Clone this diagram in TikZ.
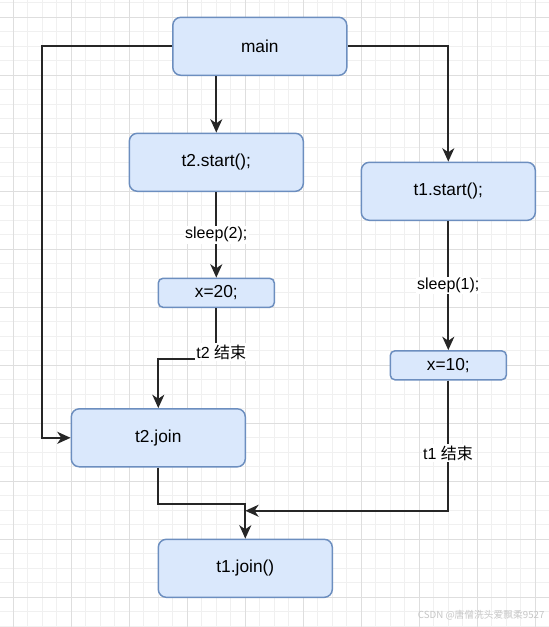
\documentclass[tikz,border=0pt]{standalone}
\usepackage{fontspec}
\setmainfont{Liberation Sans}
\newfontfamily\cjk{Noto Sans CJK SC}
\usetikzlibrary{arrows.meta}
\definecolor{boxfill}{HTML}{DAE8FC}
\definecolor{boxline}{HTML}{6C8EBF}
\definecolor{gridminor}{HTML}{F0F0F0}
\definecolor{gridmajor}{HTML}{DEDEDE}
\begin{document}
\begin{tikzpicture}[x=1.0875pt,y=-1.0875pt,
    big node/.style={rectangle,rounded corners=6pt,draw=boxline,fill=boxfill,line width=1.1pt,minimum width=130.5pt,minimum height=43.5pt,inner sep=0pt,font=\fontsize{13}{15}\selectfont},
    small node/.style={big node,rounded corners=3.5pt,minimum width=87pt,minimum height=21.75pt},
    edge label/.style={fill=white,inner sep=1pt,font=\fontsize{12}{14}\selectfont},
    flow/.style={line width=1.25pt,draw=black!85,-{Stealth[length=10pt,width=9pt,inset=3pt]}}]
    \useasboundingbox (-9.17,-11.93) rectangle (369.43,420.48);
    \fill[white] (-9.17,-11.93) rectangle (369.43,420.48);
    % grid
    \foreach \x in {0,10,...,360} \draw[gridminor,line width=0.75pt] (\x,-11.93) -- (\x,420.48);
    \foreach \y in {-10,0,...,420} \draw[gridminor,line width=0.75pt] (-9.17,\y) -- (369.43,\y);
    \foreach \x in {0,40,...,360} \draw[gridmajor,line width=0.75pt] (\x,-11.93) -- (\x,420.48);
    \foreach \y in {0,40,...,400} \draw[gridmajor,line width=0.75pt] (-9.17,\y) -- (369.43,\y);

    \node[big node] at (170,20) (main) {main};
    \node[big node] at (140,100) (t2start) {t2.start();};
    \node[big node] at (300,120) (t1start) {t1.start();};
    \node[small node] at (140,190) (x20) {x=20;};
    \node[small node] at (300,240) (x10) {x=10;};
    \node[big node] at (100,290) (t2join) {t2.join};
    \node[big node] at (160,380) (t1join) {t1.join()};

    \draw[flow] (main.west) -- (20,20) |- (t2join.west);
    \draw[flow] (main.south -| t2start.north) -- (t2start.north);
    \draw[flow] (main.east) -| (t1start.north);
    \draw[flow] (t2start) -- node[edge label] {sleep(2);} (x20);
    \draw[flow] (t1start) -- node[edge label] {sleep(1);} (x10);
    \draw[flow] (x20.south) -- (140,235.5) -| (t2join.north);
    \node[edge label] at (143.4,230.8) (t2end) {t2 {\cjk 结束}};
    \draw[flow] (t2join.south) -- (100,335.5) -| (t1join.north);
    \draw[flow] (x10.south) |- (160,340.3);
    \node[edge label] at (299.8,300.5) (t1end) {t1 {\cjk 结束}};

    \node[text=gray!45,font=\cjk\fontsize{7.3}{9}\selectfont,anchor=east,inner sep=0pt] at (366.5,412.2) (mark) {CSDN @唐僧洗头爱飘柔9527};
\end{tikzpicture}
\end{document}
